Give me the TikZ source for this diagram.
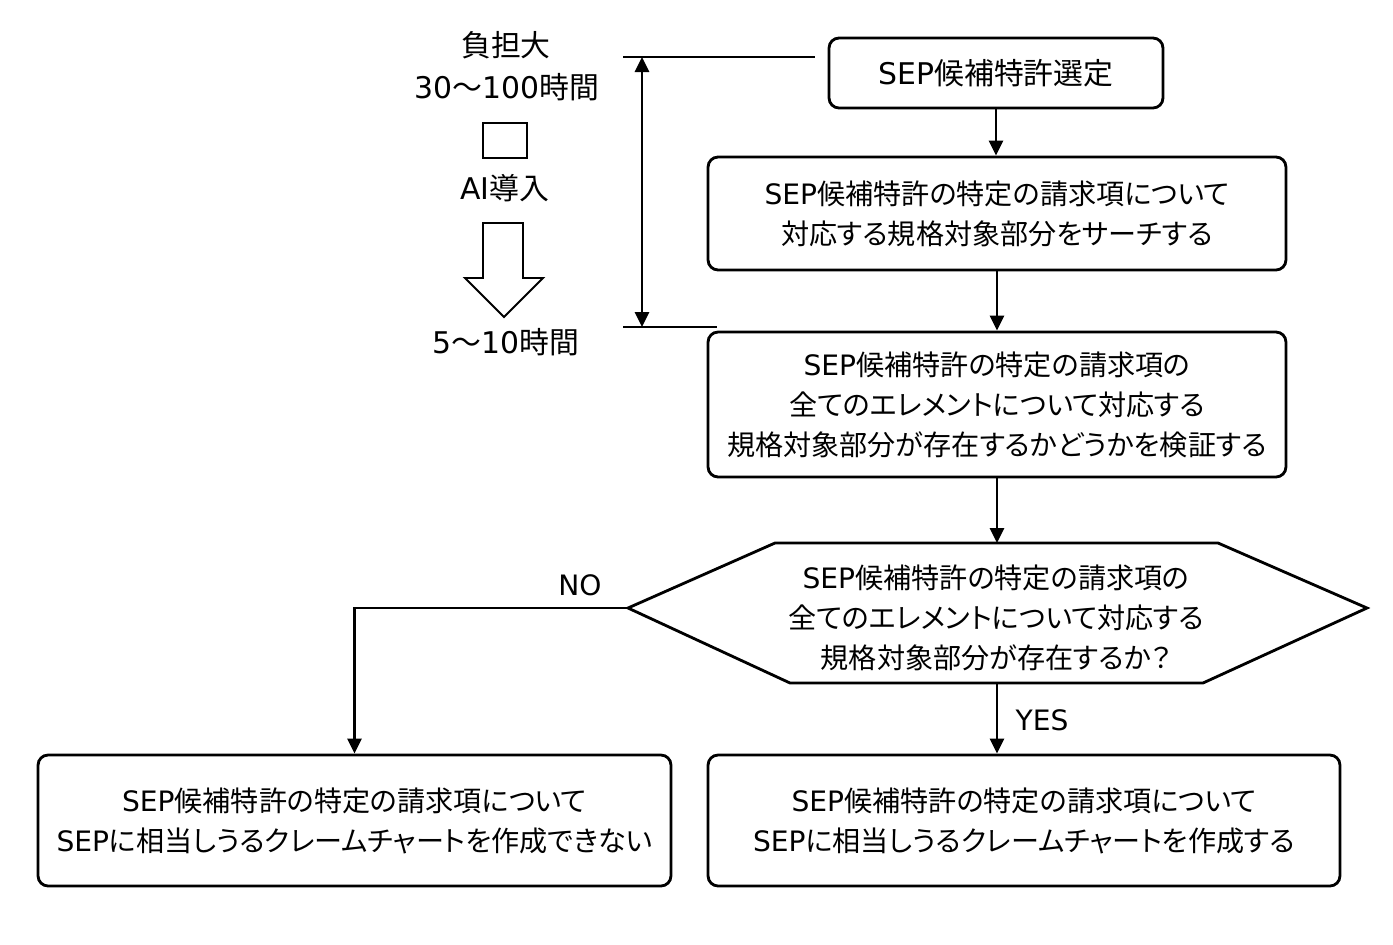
\documentclass[tikz,border=0pt]{standalone}
\usepackage{fontspec}
\setmainfont{Noto Sans CJK JP}[RawFeature=+palt]
\newfontfamily\latin{DejaVu Sans}
\usetikzlibrary{arrows.meta, calc}

\tikzset{
    flowbox/.style={draw, line width=1.6pt, rounded corners=0.2cm, align=center, inner sep=0pt},
    flowarrow/.style={line width=1.6pt, -{Triangle[length=0.3cm, width=0.28cm]}},
    thinline/.style={line width=0.6pt},
    sidenote/.style={font=\fontsize{17}{20}\selectfont},
}

\begin{document}
\begin{tikzpicture}[x=0.02cm, y=-0.02cm, font=\fontsize{16}{22.7}\selectfont]
        \useasboundingbox (0, 0) rectangle (1393, 944);

        \node (burden) at (506, 45) [sidenote] {負担大};
        \node (before) at (507, 87) [sidenote] {{\latin 30}～{\latin 100}時間};
        \node (mark) at (505, 140.5) [draw, line width=0.7pt, minimum width=0.88cm, minimum height=0.7cm, inner sep=0pt] {};
        \node (ai) at (505, 188) [sidenote] {{\latin AI}導入};
        \node (after) at (506, 342) [sidenote] {{\latin 5}～{\latin 10}時間};

        \draw[line width=1.1pt] (483, 223) -- (523, 223) -- (523, 278) -- (543, 278) -- (504, 317)
            -- (465, 278) -- (483, 278) -- cycle;

        \coordinate (topL) at (623, 57);
        \coordinate (topR) at (815, 57);
        \coordinate (botL) at (623, 327);
        \coordinate (botR) at (717, 327);
        \coordinate (spanT) at (642, 57);
        \coordinate (spanB) at (642, 327);
        \draw[thinline] (topL) -- (topR);
        \draw[thinline] (botL) -- (botR);
        \draw[line width=1.6pt, {Triangle[length=0.3cm, width=0.28cm]}-{Triangle[length=0.3cm, width=0.28cm]}] (spanT) -- (spanB);

        \node (select) at (996, 73) [flowbox, minimum width=6.68cm, minimum height=1.4cm, font=\fontsize{17}{20}\selectfont] {{\latin SEP}候補特許選定};
        \node (search) at (997, 213.5) [flowbox, minimum width=11.56cm, minimum height=2.26cm]
            {{\latin SEP}候補特許の特定の請求項について\\対応する規格対象部分をサーチする};
        \node (verify) at (997, 404.5) [flowbox, minimum width=11.56cm, minimum height=2.9cm]
            {{\latin SEP}候補特許の特定の請求項の\\全てのエレメントについて対応する\\規格対象部分が存在するかどうかを検証する};

        \coordinate (hexL) at (628, 608);
        \coordinate (hexTL) at (775, 543);
        \coordinate (hexTR) at (1218, 543);
        \coordinate (hexR) at (1367, 608);
        \coordinate (hexBR) at (1203, 683);
        \coordinate (hexBL) at (790, 683);
        \coordinate (hexT) at (997, 543);
        \coordinate (hexB) at (997, 683);
        \draw[line width=1.6pt, line join=miter] (hexL) -- (hexTL) -- (hexTR) -- (hexR) -- (hexBR) -- (hexBL) -- cycle;
        \node (check) at (996, 618) [align=center]
            {{\latin SEP}候補特許の特定の請求項の\\全てのエレメントについて対応する\\規格対象部分が存在するか？};

        \node (nobox) at (354.5, 820.5) [flowbox, minimum width=12.66cm, minimum height=2.62cm]
            {{\latin SEP}候補特許の特定の請求項について\\{\latin SEP}に相当しうるクレームチャートを作成できない};
        \node (yesbox) at (1024, 820.5) [flowbox, minimum width=12.64cm, minimum height=2.62cm]
            {{\latin SEP}候補特許の特定の請求項について\\{\latin SEP}に相当しうるクレームチャートを作成する};

        \node (no) at (580, 585) {\latin NO};
        \node (yes) at (1042, 720) {\latin YES};

        \draw[flowarrow] (select.south) -- (select.south |- search.north);
        \draw[flowarrow] (search.south) -- (search.south |- verify.north);
        \draw[flowarrow] (verify.south -| hexT) -- (hexT);
        \draw[flowarrow] (hexL) -| (nobox.north);
        \draw[flowarrow] (hexB) -- (hexB |- yesbox.north);
    \end{tikzpicture}
\end{document}
